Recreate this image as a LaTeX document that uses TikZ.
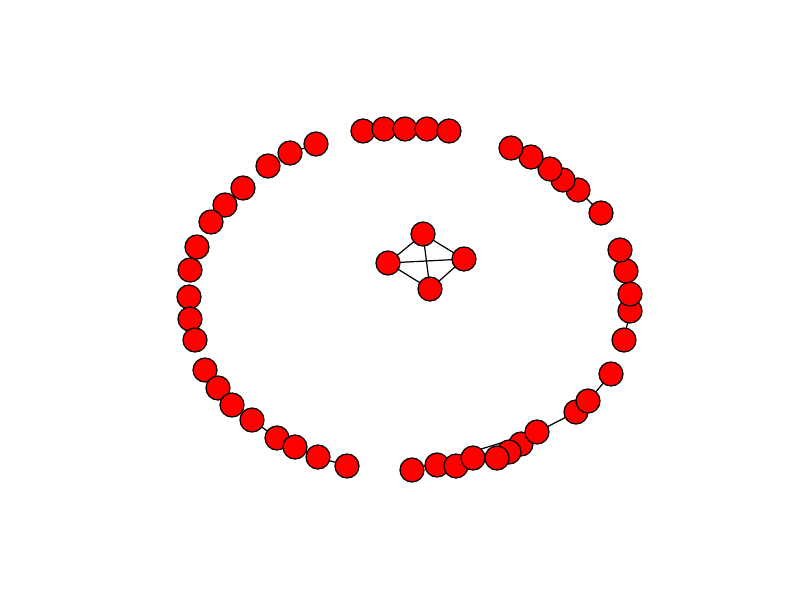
\documentclass[tikz,border=0pt]{standalone}
\usepackage{tikz}
\usetikzlibrary{backgrounds}

\begin{document}
\begin{tikzpicture}[
  x=0.02cm, y=-0.02cm,
  v/.style={circle,draw=black,fill=red,minimum size=0.48cm,inner sep=0pt,line width=0.7pt},
  e/.style={line width=0.7pt}
]
\useasboundingbox (0,0) rectangle (800,600);
% top arc
\node[v] (t1) at (363,131) {};
\node[v] (t2) at (384,129) {};
\node[v] (t3) at (405,129) {};
\node[v] (t4) at (427,129) {};
\node[v] (t5) at (449,131) {};
% upper left
\node[v] (ul1) at (316,144) {};
\node[v] (ul2) at (290,153) {};
\node[v] (ul3) at (268,166) {};
\node[v] (ul4) at (243,188) {};
\node[v] (ul5) at (225,205) {};
\node[v] (ul6) at (211,222) {};
% left
\node[v] (l1) at (197,247) {};
\node[v] (l2) at (190,270) {};
\node[v] (l3) at (189,297) {};
\node[v] (l4) at (190,319) {};
\node[v] (l5) at (195,340) {};
% lower left
\node[v] (ll1) at (205,370) {};
\node[v] (ll2) at (218,388) {};
\node[v] (ll3) at (232,405) {};
\node[v] (ll4) at (252,420) {};
\node[v] (ll5) at (277,438) {};
\node[v] (ll6) at (295,447) {};
\node[v] (ll7) at (318,457) {};
\node[v] (ll8) at (347,466) {};
% bottom / lower right
\node[v] (b1) at (412,470) {};
\node[v] (b2) at (437,465) {};
\node[v] (b3) at (456,466) {};
\node[v] (b7) at (521,444) {};
\node[v] (b8) at (537,432) {};
\node[v] (b6) at (509,452) {};
\node[v] (b5) at (497,458) {};
\node[v] (b4) at (473,458) {};
\node[v] (lr1) at (576,412) {};
\node[v] (lr2) at (588,401) {};
\node[v] (lr3) at (611,374) {};
% right
\node[v] (r1) at (624,340) {};
\node[v] (r2) at (630,311) {};
\node[v] (r3) at (630,294) {};
\node[v] (r4) at (626,271) {};
\node[v] (r5) at (620,250) {};
\node[v] (r6) at (601,213) {};
% upper right
\node[v] (ur5) at (578,190) {};
\node[v] (ur4) at (563,180) {};
\node[v] (ur3) at (550,169) {};
\node[v] (ur2) at (531,157) {};
\node[v] (ur1) at (511,148) {};
% centre
\node[v] (ca) at (423,234) {};
\node[v] (cb) at (388,263) {};
\node[v] (cc) at (464,259) {};
\node[v] (cd) at (430,289) {};
% edges, under the nodes
\begin{scope}[on background layer]
\draw[e] (ul1.center) -- (ul2.center);
\draw[e] (ur5.center) -- (r6.center);
\draw[e] (r1.center) -- (r2.center);
\draw[e] (lr3.center) -- (lr2.center);
\draw[e] (lr1.center) -- (b8.center);
\draw[e] (b1.center) -- (b8.center);
\draw[e] (ll4.center) -- (ll5.center);
\draw[e] (ll7.center) -- (ll8.center);
\draw[e] (ca.center) -- (cb.center);
\draw[e] (ca.center) -- (cc.center);
\draw[e] (ca.center) -- (cd.center);
\draw[e] (cb.center) -- (cc.center);
\draw[e] (cb.center) -- (cd.center);
\draw[e] (cc.center) -- (cd.center);
\end{scope}
\end{tikzpicture}
\end{document}
